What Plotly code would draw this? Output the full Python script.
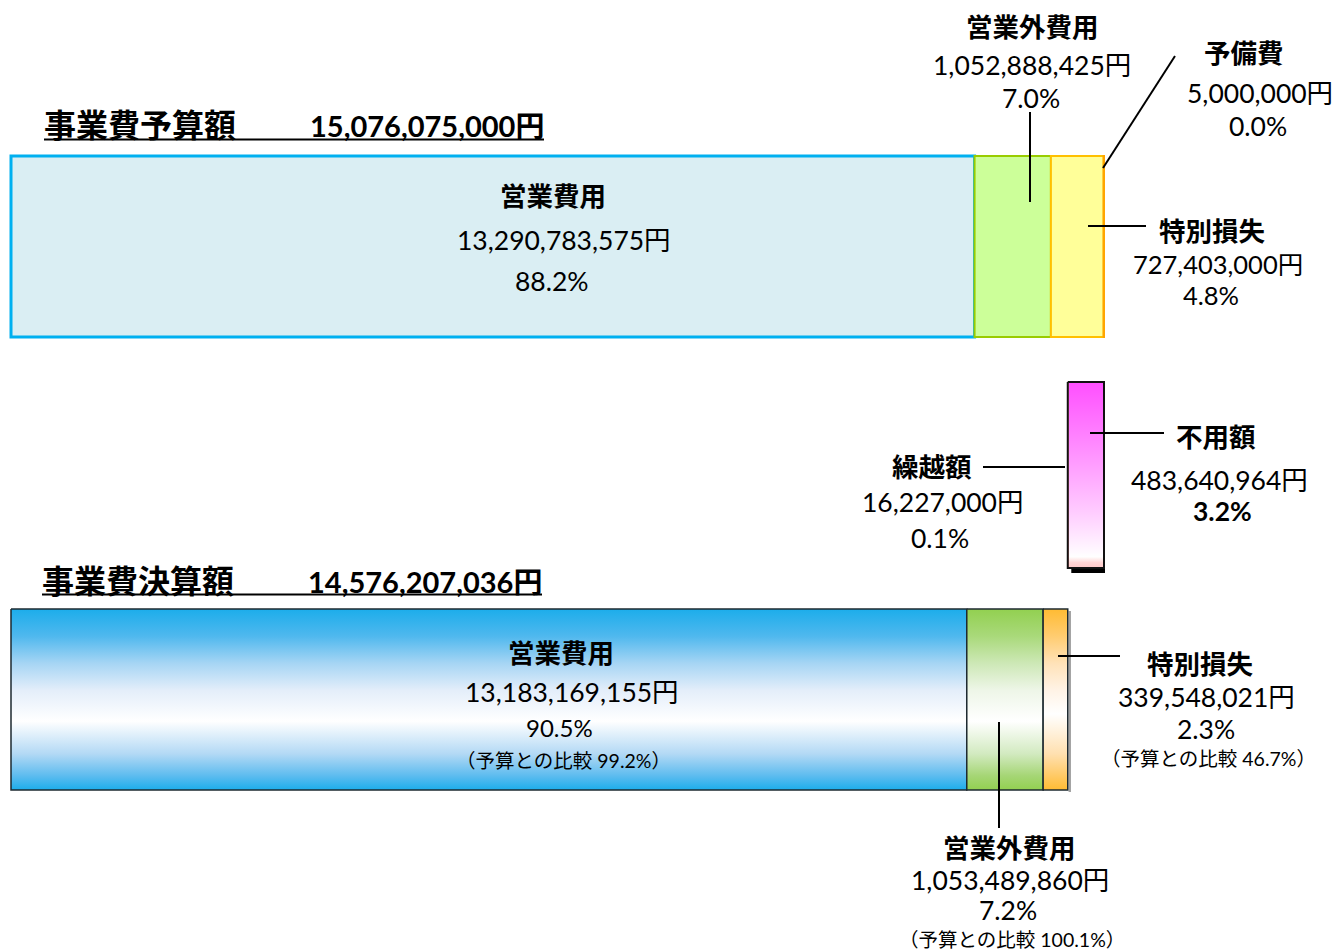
import plotly.graph_objects as go

# ---------------- data ----------------
budget_title = "事業費予算額"
budget_total = 15076075000
budget_labels = ["営業費用", "営業外費用", "特別損失", "予備費"]
budget_values = [13290783575, 1052888425, 727403000, 5000000]
budget_pcts = ["88.2%", "7.0%", "4.8%", "0.0%"]

actual_title = "事業費決算額"
actual_total = 14576207036
actual_labels = ["営業費用", "営業外費用", "特別損失"]
actual_values = [13183169155, 1053489860, 339548021]
actual_pcts = ["90.5%", "7.2%", "2.3%"]
actual_vs_budget = ["99.2%", "100.1%", "46.7%"]

rest_labels = ["繰越額", "不用額"]
rest_values = [16227000, 483640964]
rest_pcts = ["0.1%", "3.2%"]

# ---------------- layout helpers ----------------
OFF = 0            # page body margin (removed by post_script)
W, H = 1336, 951   # figure size
X0 = 11            # screen x where 0 yen sits
SCALE = 1093 / budget_total   # px per yen
FONT = "Lato, 'Noto Sans CJK JP', sans-serif"
FS = 26.5          # main label font size
FS_SMALL = 19.5


def sx(px):
    """screen px -> x-axis value (yen)"""
    return (px - X0) / SCALE


def yen(v):
    return f"{v:,}円"


def cum_starts(vals):
    out, s = [], 0
    for v in vals:
        out.append(s)
        s += v
    return out


fig = go.Figure()

# ---- budget bar (solid) ----
TOP_Y0, TOP_Y1 = 156, 337
b_starts = cum_starts(budget_values)
fig.add_trace(go.Bar(
    orientation="h",
    y=[(TOP_Y0 + TOP_Y1) / 2] * len(budget_values),
    x=budget_values,
    base=b_starts,
    width=TOP_Y1 - TOP_Y0,
    marker=dict(
        color=["#DAEEF3", "#CCFF99", "#FFFF99", "#FFA500"],
        line=dict(color=["#00B0F0", "#99CC00", "#FFC000", "#FFA500"],
                  width=[3, 2, 2, 2]),
    ),
    hoverinfo="skip",
))

# ---- actual bar (gradients) ----
BOT_Y0, BOT_Y1 = 609, 790
a_starts = cum_starts(actual_values)
grads = [
    [[0, "#1CADEB"], [0.15, "#4FB8EE"], [0.3, "#A6D5F4"], [0.45, "#E4EEFA"],
     [0.62, "#FFFFFF"], [0.8, "#B3D9F5"], [0.92, "#5EBCEF"], [1, "#1CADEB"]],
    [[0, "#92D050"], [0.15, "#A9D97A"], [0.3, "#CDE8B6"], [0.45, "#EEF6E8"],
     [0.62, "#FFFFFF"], [0.8, "#D2EAC0"], [0.92, "#A6D676"], [1, "#92D050"]],
    [[0, "#FFBB33"], [0.15, "#FFCC70"], [0.3, "#FFE2B8"], [0.45, "#FFF3E6"],
     [0.58, "#FFFFFF"], [0.8, "#FFE0B0"], [0.92, "#FFCA66"], [1, "#FFBB33"]],
]
for s, v, g in zip(a_starts, actual_values, grads):
    fig.add_trace(go.Scatter(
        x=[s, s + v, s + v, s, s],
        y=[BOT_Y0, BOT_Y0, BOT_Y1, BOT_Y1, BOT_Y0],
        mode="lines", fill="toself",
        fillgradient=dict(type="vertical", colorscale=g, start=BOT_Y0, stop=BOT_Y1),
        line=dict(color="#1E2A30", width=1.5),
        hoverinfo="skip",
    ))

# ---- remaining (繰越額 / 不用額) vertical box ----
MID_Y0, MID_Y1 = 382, 568
r_starts = [actual_total + s for s in cum_starts(rest_values)]
# shadow
fig.add_shape(type="rect", xref="x", yref="y",
              x0=r_starts[0] + rest_values[0] * 3, x1=budget_total + 1 / SCALE,
              y0=MID_Y1 - 1, y1=MID_Y1 + 5,
              fillcolor="black", line=dict(width=0), layer="below")
fig.add_trace(go.Scatter(
    x=[r_starts[0], r_starts[0] + rest_values[0], r_starts[0] + rest_values[0], r_starts[0], r_starts[0]],
    y=[MID_Y0, MID_Y0, MID_Y1, MID_Y1, MID_Y0],
    mode="lines", fill="toself", fillcolor="#FF9A9A",
    line=dict(color="#FF9A9A", width=1), hoverinfo="skip",
))
mag = [[0, "#FF4FFF"], [0.35, "#FF8CFF"], [0.7, "#FFCCFF"], [0.9, "#FFF6FF"],
       [0.94, "#FFFFFF"], [0.97, "#FFD6D6"], [1, "#FFC8C8"]]
s, v = r_starts[1], rest_values[1]
fig.add_trace(go.Scatter(
    x=[s, s + v, s + v, s, s],
    y=[MID_Y0, MID_Y0, MID_Y1, MID_Y1, MID_Y0],
    mode="lines", fill="toself",
    fillgradient=dict(type="vertical", colorscale=mag, start=MID_Y0, stop=MID_Y1),
    line=dict(width=0), hoverinfo="skip",
))
fig.add_trace(go.Scatter(
    x=[actual_total, budget_total, budget_total, actual_total, actual_total],
    y=[MID_Y0, MID_Y0, MID_Y1, MID_Y1, MID_Y0],
    mode="lines", line=dict(color="#111111", width=2), hoverinfo="skip",
))

# gray shadow to right of the actual bar
fig.add_shape(type="rect", xref="x", yref="y",
              x0=actual_total + 0.8 / SCALE, x1=actual_total + 3.2 / SCALE,
              y0=BOT_Y0 + 2, y1=BOT_Y1 + 2,
              fillcolor="#A0A0A0", line=dict(width=0), layer="below")

# ---------------- annotations ----------------
anns = []


def ann(text, x, y, size=FS, bold=False, xanchor="center"):
    anns.append(dict(
        text=f"<b>{text}</b>" if bold else text,
        x=sx(x), y=y, xref="x", yref="y",
        xanchor=xanchor, yanchor="middle", showarrow=False,
        font=dict(family=FONT, size=size, color="black"),
    ))


def line(x0, y0, x1, y1, w=2):
    fig.add_shape(type="line", xref="x", yref="y",
                  x0=sx(x0), y0=y0, x1=sx(x1), y1=y1,
                  line=dict(color="black", width=w))


# titles
ann(budget_title, 42, 124, 32, True, "left")
ann(yen(budget_total), 308, 125, 29, True, "left")
line(44, 139.5, 544, 139.5, 2)
ann(actual_title, 40, 580, 32, True, "left")
ann(yen(actual_total), 306, 581, 29, True, "left")
line(42, 594.5, 542, 594.5, 2)

# budget: 営業費用 inside
ann(budget_labels[0], 553, 196, FS, True)
ann(yen(budget_values[0]), 564, 240)
ann(budget_pcts[0], 552, 281)
# budget: 営業外費用 above
ann(budget_labels[1], 1032, 27, FS, True)
ann(yen(budget_values[1]), 1032, 65)
ann(budget_pcts[1], 1031, 98)
line(1030, 112, 1030, 202)
# budget: 予備費
ann(budget_labels[3], 1244, 53, FS, True)
ann(yen(budget_values[3]), 1260, 93)
ann(budget_pcts[3], 1258, 126)
line(1175, 56, 1103, 168)
# budget: 特別損失
ann(budget_labels[2], 1212, 231, FS, True)
ann(yen(budget_values[2]), 1218, 264, 25.5)
ann(budget_pcts[2], 1211, 295, 25.5)
line(1088, 226, 1146, 226)

# rest
ann(rest_labels[1], 1216, 437, FS, True)
ann(yen(rest_values[1]), 1219, 480)
ann(rest_pcts[1], 1222, 511, FS, True)
line(1090, 433, 1164, 433)
ann(rest_labels[0], 932, 467, FS, True)
ann(yen(rest_values[0]), 943, 502)
ann(rest_pcts[0], 940, 538)
line(983, 467, 1065, 467)

# actual: 営業費用 inside
ann(actual_labels[0], 561, 653, FS, True)
ann(yen(actual_values[0]), 572, 692)
ann(actual_pcts[0], 559, 727, 24)
ann(f"（予算との比較 {actual_vs_budget[0]}）", 563, 760, FS_SMALL)
# actual: 特別損失
ann(actual_labels[2], 1200, 664, FS, True)
ann(yen(actual_values[2]), 1206, 697)
ann(actual_pcts[2], 1206, 729)
ann(f"（予算との比較 {actual_vs_budget[2]}）", 1208, 758, FS_SMALL)
line(1058, 656, 1120, 656)
# actual: 営業外費用 below
ann(actual_labels[1], 1009, 848, FS, True)
ann(yen(actual_values[1]), 1010, 880)
ann(actual_pcts[1], 1008, 910)
ann(f"（予算との比較 {actual_vs_budget[1]}）", 1012, 939, FS_SMALL)
line(999, 722, 999, 828)

fig.update_layout(
    width=W, height=H,
    margin=dict(l=0, r=0, t=0, b=0),
    paper_bgcolor="white", plot_bgcolor="white",
    showlegend=False, barmode="overlay",
    annotations=anns,
    xaxis=dict(range=[sx(OFF), sx(OFF + W)], visible=False, fixedrange=True),
    yaxis=dict(range=[OFF + H, OFF], visible=False, fixedrange=True),
    font=dict(family=FONT),
)

fig.write_html(
    "out.html",
    config={"displayModeBar": False},
    post_script="document.body.style.margin='0';document.body.style.overflow='hidden';",
)
